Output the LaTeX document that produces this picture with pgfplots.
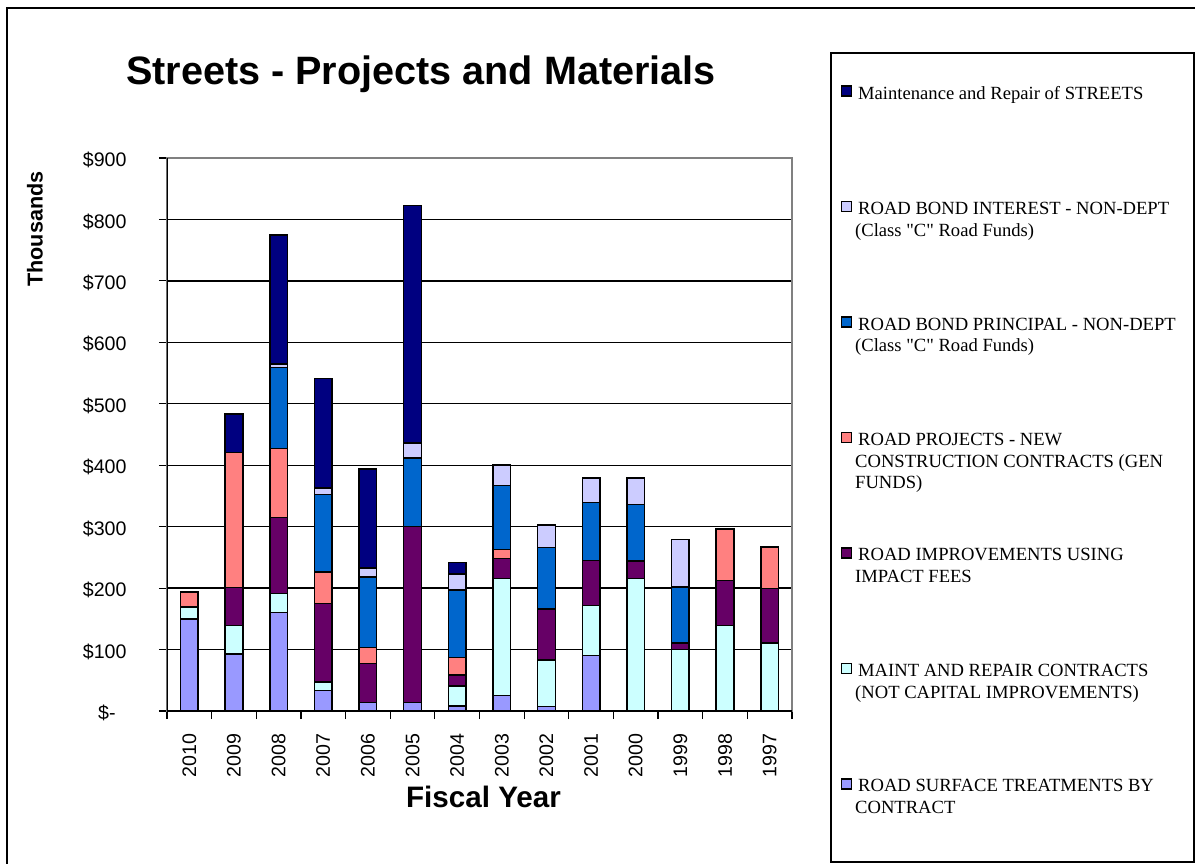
\documentclass[border=0pt]{standalone}
\usepackage{pgfplots}
\pgfplotsset{compat=1.18}
\usepackage{pgfplotstable}
\usepackage{fontspec}
\setmainfont{Liberation Sans}
\newfontfamily\tnr{Liberation Serif}
\definecolor{cSurf}{HTML}{9999FF}
\definecolor{cMaint}{HTML}{CCFFFF}
\definecolor{cImp}{HTML}{660066}
\definecolor{cProj}{HTML}{FF8080}
\definecolor{cPrin}{HTML}{0066CC}
\definecolor{cInt}{HTML}{CCCCFF}
\definecolor{cStr}{HTML}{000080}
\pgfplotstableread{
x surf maint imp proj prin int str
0 150 19 0 25 0 0 0
1 93 46 62 220 0 0 62
2 160 31 124 112 132 6 210
3 33 14 128 51 126 11 178
4 14 0 63 26 115 15 161
5 14 0 286 0 112 24 387
6 8 33 18 28 110 26 19
7 25 191 32 15 104 33 0
8 7 76 82 1 100 37 0
9 90 82 73 0 94 40 0
10 0 216 28 0 92 43 0
11 0 100 11 0 91 77 0
12 0 139 73 84 0 0 0
13 0 111 88 68 0 0 0
}\data
\begin{document}
\begin{tikzpicture}
\useasboundingbox (-83.5pt,-76pt) rectangle (514pt,355.5pt);
\begin{axis}[
  at={(0pt,0pt)}, anchor=south west,
  scale only axis, width=312.5pt, height=276.5pt,
  ybar stacked, bar width=8.8pt,
  legend image code/.code={\draw[#1, line width=0.6pt] (0pt,1.5pt) rectangle (5pt,6.5pt);},
  xmin=-0.5, xmax=13.5, ymin=0, ymax=900,
  xtick={-0.5,0.5,...,13.5}, xticklabels={},
  extra x ticks={0,1,...,13},
  extra x tick labels={2010,2009,2008,2007,2006,2005,2004,2003,2002,2001,2000,1999,1998,1997},
  extra x tick style={major tick length=0pt, grid=none},
  xticklabel style={rotate=90, anchor=east, xshift=-8pt},
  ytick={0,100,...,900},
  yticklabels={\$-\hphantom{0},\$100,\$200,\$300,\$400,\$500,\$600,\$700,\$800,\$900},
  yticklabel style={xshift=-12.7pt, yshift=-1pt},
  tick label style={font=\fontsize{9.8}{11}\selectfont},
  ymajorgrids, major grid style={black, line width=0.7pt},
  tick align=outside, tick pos=left, major tick length=4pt,
  tick style={black, line width=0.6pt},
  axis line style={gray, line width=0.6pt},
  title={Streets - Projects and Materials},
  title style={at={(0.4064,1.112)}, anchor=base, font=\bfseries\fontsize{19.8}{22}\selectfont},
  xlabel={Fiscal Year},
  xlabel style={at={(0.5064,-0.1754)}, anchor=base, font=\bfseries\fontsize{14.8}{17}\selectfont},
  ylabel={Thousands},
  ylabel style={at={(-0.2112,0.8716)}, anchor=center, font=\bfseries\fontsize{10.8}{13}\selectfont},
  reverse legend,
  legend style={at={(1.0608,1.1917)}, anchor=north west, draw=black, line width=1pt,
    inner xsep=5pt, inner ysep=0pt, row sep=0pt,
    font=\tnr\fontsize{9.3}{10.8}\selectfont,
    cells={anchor=base west},
    nodes={inner xsep=3pt, inner ysep=0pt, text height=23pt, text depth=34.75pt}},
]
\addplot[fill=cSurf, draw=black, line width=0.75pt] table[x=x,y=surf]{\data};
\addlegendentry{\parbox[t]{160pt}{\raggedright ROAD SURFACE TREATMENTS BY\\\hspace*{-1.5pt}CONTRACT}}
\addplot[fill=cMaint, draw=black, line width=0.75pt] table[x=x,y=maint]{\data};
\addlegendentry{\parbox[t]{160pt}{\raggedright MAINT AND REPAIR CONTRACTS\\\hspace*{-1.5pt}(NOT CAPITAL IMPROVEMENTS)}}
\addplot[fill=cImp, draw=black, line width=0.75pt] table[x=x,y=imp]{\data};
\addlegendentry{\parbox[t]{160pt}{\raggedright ROAD IMPROVEMENTS USING\\\hspace*{-1.5pt}IMPACT FEES}}
\addplot[fill=cProj, draw=black, line width=0.75pt] table[x=x,y=proj]{\data};
\addlegendentry{\parbox[t]{160pt}{\raggedright ROAD PROJECTS - NEW\\\hspace*{-1.5pt}CONSTRUCTION CONTRACTS (GEN\\\hspace*{-1.5pt}FUNDS)}}
\addplot[fill=cPrin, draw=black, line width=0.75pt] table[x=x,y=prin]{\data};
\addlegendentry{\parbox[t]{160pt}{\raggedright ROAD BOND PRINCIPAL - NON-DEPT\\\hspace*{-1.5pt}(Class "C" Road Funds)}}
\addplot[fill=cInt, draw=black, line width=0.75pt] table[x=x,y=int]{\data};
\addlegendentry{\parbox[t]{160pt}{\raggedright ROAD BOND INTEREST - NON-DEPT\\\hspace*{-1.5pt}(Class "C" Road Funds)}}
\addplot[fill=cStr, draw=black, line width=0.75pt] table[x=x,y=str]{\data};
\addlegendentry{\parbox[t]{160pt}{\raggedright Maintenance and Repair of STREETS}}
\draw[black, line width=1pt] (rel axis cs:0,0) -- (rel axis cs:0,1);
\draw[black, line width=0.8pt] (rel axis cs:0,0) -- (rel axis cs:1,0);
\end{axis}
\draw[black, line width=1pt] (-80pt,-90pt) -- (-80pt,351.5pt) -- (530pt,351.5pt);
\end{tikzpicture}
\end{document}
